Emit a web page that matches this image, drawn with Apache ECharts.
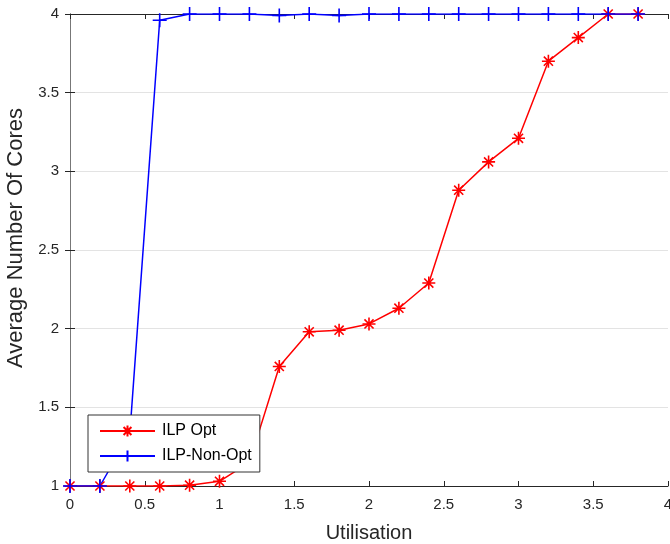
<!DOCTYPE html>
<html lang="en">
<head>
    <meta charset="UTF-8">
    <title>cores</title>
    <script src="https://cdn.jsdelivr.net/npm/echarts@6/dist/echarts.min.js"></script>
</head>
<body style="margin:0">
<div id="chart" style="width: 670px;height:544px;"></div>
<script>
    let utilisation = [0, 0.2, 0.4, 0.6, 0.8, 1.0, 1.2, 1.4, 1.6, 1.8, 2.0, 2.2, 2.4, 2.6, 2.8, 3.0, 3.2, 3.4, 3.6, 3.8]
    let ilpOpt = [1, 1, 1, 1, 1.005, 1.03, 1.15, 1.76, 1.98, 1.99, 2.03, 2.13, 2.29, 2.88, 3.06, 3.21, 3.70, 3.85, 4, 4]
    let ilpNonOpt = [1, 1, 1.33, 3.96, 4, 4, 4, 3.99, 4, 3.99, 4, 4, 4, 4, 4, 4, 4, 4, 4, 4]

    let asterisk = 'path://M0,-10L0,10M-10,0L10,0M-7,-7L7,7M-7,7L7,-7'
    let plus = 'path://M0,-10L0,10M-10,0L10,0'

    let font = 'Liberation Sans, Arial, Helvetica, sans-serif'
    let axisColor = '#262626'

    function pairs(xs, ys) {
        return xs.map(function (x, i) { return [x, ys[i]]; });
    }

    let chart = echarts.init(document.getElementById('chart'));

    // 外框：上、右两条副轴只画线和刻度
    let option = {
        animation: false,
        textStyle: {fontFamily: font},
        grid: {left: 70, right: 2, top: 14, bottom: 58, outerBoundsMode: 'none', containLabel: false},
        legend: {
            orient: 'vertical',
            left: 88,
            top: 415,
            padding: [8, 8, 8, 11],
            itemWidth: 55,
            itemHeight: 14,
            itemGap: 9,
            backgroundColor: '#fff',
            borderColor: '#333',
            borderWidth: 1,
            textStyle: {fontSize: 16, color: '#000', fontFamily: font, padding: [0, 0, 0, 2]},
            data: ['ILP Opt', 'ILP-Non-Opt']
        },
        xAxis: [{
            type: 'value',
            min: 0, max: 4, interval: 0.5,
            name: 'Utilisation',
            nameLocation: 'middle',
            nameGap: 37,
            nameTextStyle: {fontSize: 20, color: axisColor},
            axisLine: {show: true, lineStyle: {color: axisColor}},
            axisTick: {show: true, inside: true, length: 5, lineStyle: {color: axisColor}},
            axisLabel: {fontSize: 15, color: axisColor, margin: 11},
            splitLine: {show: false}
        }, {
            type: 'value',
            position: 'top',
            min: 0, max: 4, interval: 0.5,
            axisLine: {show: true, lineStyle: {color: axisColor}},
            axisTick: {show: true, inside: true, length: 5, lineStyle: {color: axisColor}},
            axisLabel: {show: false},
            splitLine: {show: false}
        }],
        yAxis: [{
            type: 'value',
            min: 1, max: 4, interval: 0.5,
            name: 'Average Number Of Cores',
            nameLocation: 'middle',
            nameGap: 37,
            nameTextStyle: {fontSize: 22, color: axisColor, padding: [0, 0, 0, 24]},
            axisLine: {show: true, lineStyle: {color: axisColor}},
            axisTick: {show: true, inside: true, length: 5, lineStyle: {color: axisColor}},
            axisLabel: {fontSize: 15, color: axisColor, margin: 11},
            splitLine: {show: true, lineStyle: {color: '#e3e3e3', width: 1}}
        }, {
            type: 'value',
            position: 'right',
            min: 1, max: 4, interval: 0.5,
            axisLine: {show: true, lineStyle: {color: '#777'}},
            axisTick: {show: true, inside: true, length: 5, lineStyle: {color: axisColor}},
            axisLabel: {show: false},
            splitLine: {show: false}
        }],
        series: [{
            name: 'ILP Opt',
            type: 'line',
            data: pairs(utilisation, ilpOpt),
            symbol: asterisk,
            symbolSize: 13,
            showAllSymbol: true,
            lineStyle: {color: '#ff0000', width: 1.5},
            itemStyle: {color: '#ff0000', borderColor: '#ff0000', borderWidth: 1.6}
        }, {
            name: 'ILP-Non-Opt',
            type: 'line',
            data: pairs(utilisation, ilpNonOpt),
            symbol: plus,
            symbolSize: 14,
            showAllSymbol: true,
            lineStyle: {color: '#0000ff', width: 1.5},
            itemStyle: {color: '#0000ff', borderColor: '#0000ff', borderWidth: 1.6}
        }]
    };

    chart.setOption(option);
</script>
</body>
</html>
